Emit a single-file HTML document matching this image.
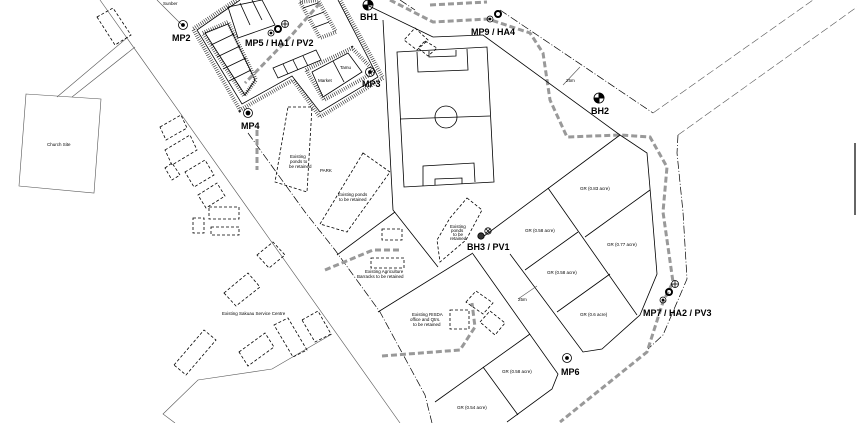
<!DOCTYPE html>
<html><head><meta charset="utf-8"><style>
html,body{margin:0;padding:0;background:#fff;}
svg{display:block;font-family:"Liberation Sans",sans-serif;}
.l{fill:none;stroke:#000;stroke-width:0.8}
.t{fill:none;stroke:#555;stroke-width:0.6}
.d{fill:none;stroke:#000;stroke-width:0.8;stroke-dasharray:3 2}
.dd{fill:none;stroke:#000;stroke-width:0.7;stroke-dasharray:8 2 1 2}
.g{fill:none;stroke:#999;stroke-width:3;stroke-dasharray:6 3}
.h{fill:none;stroke:#222;stroke-width:4;stroke-dasharray:0.6 1.6}
.b{font-weight:bold;font-size:9px;fill:#000}
.s{font-size:4.5px;fill:#000}
</style></head><body>
<svg width="857" height="423" viewBox="0 0 857 423" xmlns="http://www.w3.org/2000/svg">
<line class="t" x1="100" y1="0" x2="400" y2="423"/>
<line class="t" x1="157" y1="0" x2="183" y2="26"/>
<text class="s" x="163" y="5">Sunber</text>
<polygon class="t" points="26,94 101,99 94,193 19,186"/>
<text class="s" x="47" y="146">Church Site</text>
<line class="t" x1="57" y1="97" x2="128" y2="37"/>
<line class="t" x1="72" y1="97" x2="135" y2="47"/>
<polygon class="d" points="97,17 113,8 131,35 115,45"/>
<!-- car park -->
<polyline class="h" points="236,0 193,29 240,110 293,80 320,117 383,78 340,0"/>
<polyline class="l" points="240,0 197,30 242,104 292,76 320,112 378,77 338,0"/>
<polygon class="h" points="203,33 228,22 256,80 244,96"/>
<polygon class="l" points="205,33 228,24 255,80 245,95"/>
<line class="l" x1="211" y1="45" x2="234" y2="34"/><line class="l" x1="217" y1="57" x2="240" y2="46"/>
<line class="l" x1="223" y1="69" x2="246" y2="58"/><line class="l" x1="229" y1="81" x2="251" y2="70"/>
<polygon class="l" points="228,7 262,0 275,25 238,38"/>
<line class="l" x1="240" y1="3" x2="250" y2="25"/><line class="l" x1="252" y1="0" x2="262" y2="20"/>
<polygon class="h" points="300,2 318,0 336,32 320,38"/>
<line class="l" x1="303" y1="8" x2="318" y2="3"/><line class="l" x1="308" y1="18" x2="324" y2="12"/><line class="l" x1="313" y1="28" x2="329" y2="22"/>
<polygon class="l" points="273,68 316,50 321,60 278,78"/>
<line class="l" x1="283" y1="64" x2="288" y2="74"/><line class="l" x1="293" y1="60" x2="298" y2="70"/><line class="l" x1="303" y1="56" x2="308" y2="66"/>
<polygon class="h" points="306,70 352,48 375,72 324,100"/>
<polygon class="l" points="312,72 348,53 362,72 323,97"/>
<line class="l" x1="333" y1="61" x2="344" y2="82"/>
<text class="s" x="318" y="82">Market</text><text class="s" x="340" y="69">Tamu</text>
<polyline class="dd" points="248,133 305,212 335,250 380,312 425,395 432,423"/>
<polyline class="dd" points="500,10 653,113"/>
<polyline class="dd" points="678,135 677,153 683,212 687,279 663,335 648,349"/>
<line class="dd" x1="400" y1="0" x2="415" y2="10"/>
<polyline class="t" points="653,113 813,0" stroke-dasharray="8 3"/>
<polyline class="t" points="678,135 857,7" stroke-dasharray="8 3"/>
<polyline class="g" points="390,0 433,22 488,19 530,33 543,53 550,100 567,137 620,135 650,137 667,167 663,212 673,282 663,302 647,352 560,422"/>
<polyline class="g" points="430,5 487,2"/>
<polyline class="g" points="320,3 290,37 245,83"/>
<polyline class="g" points="257,130 257,170"/>
<polyline class="g" points="325,270 373,250 402,250"/>
<polyline class="g" points="382,356 460,350 475,327 472,303"/>
<polyline class="l" points="383,20 393,210 438,267"/>
<line class="l" x1="337" y1="255" x2="395" y2="212"/>
<line class="l" x1="378" y1="312" x2="473" y2="253"/>
<line class="l" x1="369" y1="6" x2="433" y2="37"/>
<polyline class="l" points="433,37 483,35 620,135 647,153 652,212 657,274 640,315 602,349 583,352 510,254"/>
<polyline class="l" points="473,254 558,374 552,389 507,422"/>
<line class="l" x1="620" y1="135" x2="480" y2="239"/>
<polygon class="d" points="415,28 428,40 417,50 404,40"/>
<polygon class="d" points="425,41 437,48 428,56 418,48"/>
<polygon class="l" points="397,52 487,47 494,182 404,187"/>
<line class="l" x1="400" y1="119" x2="490" y2="116"/>
<circle class="l" cx="446" cy="117" r="11"/>
<polyline class="l" points="417,52 418,72 468,70 467,49"/>
<polyline class="l" points="429,51 429,57 456,56 456,50"/>
<polyline class="l" points="423,186 423,166 474,163 475,182"/>
<polyline class="l" points="435,185 435,179 462,178 462,184"/>
<line class="l" x1="548" y1="188" x2="637" y2="315"/>
<line class="l" x1="585" y1="237" x2="650" y2="190"/>
<line class="l" x1="578" y1="232" x2="525" y2="270"/>
<line class="l" x1="610" y1="274" x2="557" y2="312"/>
<line class="l" x1="530" y1="334" x2="435" y2="402"/>
<line class="l" x1="483" y1="367" x2="518" y2="415"/>
<line class="t" x1="518" y1="299" x2="537" y2="286"/>
<line class="t" x1="563" y1="85" x2="580" y2="67"/>
<text class="s" x="525" y="232">GR (0.58 acre)</text>
<text class="s" x="607" y="246">GR (0.77 acre)</text>
<text class="s" x="547" y="274">GR (0.58 acre)</text>
<text class="s" x="580" y="316">GR (0.6 acre)</text>
<text class="s" x="502" y="373">GR (0.58 acre)</text>
<text class="s" x="457" y="409">GR (0.54 acre)</text>
<text class="s" x="518" y="301">25m</text>
<text class="s" x="566" y="82">25m</text>
<text class="s" x="580" y="190">GR (0.83 acre)</text>
<polyline class="t" points="175,423 163,414 198,380 272,369 332,334"/>
<polygon class="d" points="160,127 181,115 187,128 166,140"/>
<polygon class="d" points="165,150 190,135 197,150 172,165"/>
<polygon class="d" points="165,168 172,163 180,175 172,180"/>
<polygon class="d" points="185,172 205,160 214,175 194,187"/>
<polygon class="d" points="198,195 217,183 225,196 206,208"/>
<rect class="d" x="209" y="207" width="30" height="12"/>
<rect class="d" x="193" y="218" width="11" height="15"/>
<rect class="d" x="211" y="227" width="28" height="8"/>
<polygon class="d" points="257,255 273,242 285,255 269,268"/>
<polygon class="d" points="224,293 248,273 260,287 236,306"/>
<polygon class="d" points="174,365 204,330 216,340 186,375"/>
<polygon class="d" points="239,352 265,333 274,347 248,366"/>
<polygon class="d" points="274,325 288,318 307,350 293,357"/>
<polygon class="d" points="302,320 318,311 331,334 315,342"/>
<rect class="d" x="382" y="229" width="20" height="11"/>
<rect class="d" x="371" y="258" width="33" height="10"/>
<rect class="d" x="450" y="310" width="19" height="19"/>
<polygon class="d" points="466,302 476,291 493,303 483,314"/>
<polygon class="d" points="480,322 490,311 505,323 495,335"/>
<polygon class="d" points="288,107 312,107 307,192 275,182"/>
<polygon class="d" points="363,153 390,172 347,232 320,224"/>
<polygon class="d" points="467,198 482,210 466,240 440,262 437,240 450,218"/>
<text class="s" x="290" y="158">Existing</text><text class="s" x="290" y="163">ponds to</text><text class="s" x="289" y="168">be retained</text>
<text class="s" x="320" y="172">PARK</text>
<text class="s" x="338" y="196">Existing ponds</text><text class="s" x="339" y="201">to be retained</text>
<text class="s" x="450" y="228">Existing</text><text class="s" x="451" y="232">ponds</text><text class="s" x="453" y="236">to be</text><text class="s" x="450" y="240">retained</text>
<text class="s" x="365" y="273">Existing Agriculture</text><text class="s" x="357" y="278">Barracks to be retained</text>
<text class="s" x="412" y="316">Existing RISDA</text><text class="s" x="410" y="321">office and Qtrs.</text><text class="s" x="413" y="326">to be retained</text>
<text class="s" x="222" y="315">Existing Sakuau Service Centre</text>
<g stroke="#000" fill="none" stroke-width="0.8">
<circle cx="183" cy="25" r="4.5"/><circle cx="183" cy="25" r="1.5" fill="#000"/>
<circle cx="370" cy="72" r="4.5"/><circle cx="370" cy="72" r="1.5" fill="#000"/>
<circle cx="248" cy="113" r="4.5"/><circle cx="248" cy="113" r="2" fill="#000"/>
<circle cx="567" cy="358" r="4.5"/><circle cx="567" cy="358" r="1.5" fill="#000"/>
<circle cx="271" cy="33" r="3"/><circle cx="271" cy="33" r="1" fill="#000"/>
<circle cx="278" cy="29" r="3" stroke-width="2"/>
<circle cx="285" cy="24" r="3.5"/><path d="M281.5,24h7M285,20.5v7"/>
<circle cx="490" cy="19" r="3"/><circle cx="490" cy="19" r="1" fill="#000"/>
<circle cx="498" cy="14" r="3" stroke-width="2"/>
<circle cx="663" cy="300" r="3"/><circle cx="663" cy="300" r="1" fill="#000"/>
<circle cx="669" cy="292" r="3" stroke-width="2"/>
<circle cx="675" cy="284" r="3.5"/><path d="M671.5,284h7M675,280.5v7"/>
<circle cx="368" cy="5" r="5"/><path d="M363,5h10M368,0v10"/><path d="M368,0a5,5 0 0 1 5,5h-5z" fill="#000"/><path d="M368,10a5,5 0 0 1 -5,-5h5z" fill="#000"/>
<circle cx="599" cy="98" r="5"/><path d="M594,98h10M599,93v10"/><path d="M599,93a5,5 0 0 1 5,5h-5z" fill="#000"/><path d="M599,103a5,5 0 0 1 -5,-5h5z" fill="#000"/>
<circle cx="481" cy="236" r="3.2" fill="#333"/><circle cx="488" cy="231" r="3.2"/><path d="M485.5,228.5l5,5M490.5,228.5l-5,5"/>
</g>
<text class="b" x="172" y="41">MP2</text>
<text class="b" x="245" y="46">MP5 / HA1 / PV2</text>
<text class="b" x="360" y="20">BH1</text>
<text class="b" x="362" y="87">MP3</text>
<text class="b" x="241" y="129">MP4</text>
<text class="b" x="471" y="35">MP9 / HA4</text>
<text class="b" x="591" y="114">BH2</text>
<text class="b" x="467" y="250">BH3 / PV1</text>
<text class="b" x="561" y="375">MP6</text>
<text class="b" x="643" y="316">MP7 / HA2 / PV3</text>
<line x1="855" y1="143" x2="855" y2="215" stroke="#000" stroke-width="1.2"/>
</svg>
</body></html>
